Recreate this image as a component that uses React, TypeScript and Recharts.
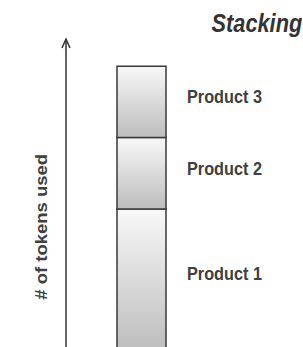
import React from 'react';
import { BarChart, Bar, XAxis, YAxis, LabelList } from 'recharts';

// Values (relative heights of the stacked segments)
const categories = ['Stacking'];
const productNames = ['Product 1', 'Product 2', 'Product 3'];
const product1 = [2];
const product2 = [1];
const product3 = [1];
const yMax = 4.38;

const seriesKeys = ['p1', 'p2', 'p3'];

const chartData = categories.map((name, i) => ({
  name,
  p1: product1[i],
  p2: product2[i],
  p3: product3[i]
}));

const FONT = '"Liberation Sans", Arial, sans-serif';
const TEXT_COLOR = '#404040';

// Segment label drawn to the right of each stacked piece
const makeLabel = (label: string) => (props: any) => {
  const { x, y, width, height } = props;
  // bottom segment runs past the visible area, so centre it on what shows
  const visibleH = Math.min(Number(height), 347 - Number(y));
  return (
    <text
      x={Number(x) + Number(width) + 21}
      y={Number(y) + visibleH / 2 - 5}
      dominantBaseline="central"
      fontFamily={FONT}
      fontWeight="bold"
      fontSize={18.5}
      textLength={75}
      lengthAdjust="spacingAndGlyphs"
      fill={TEXT_COLOR}
    >
      {label}
    </text>
  );
};

// Axis arrow head plus the rotated axis title
const AxisLabel = (props: any) => {
  const { viewBox } = props;
  const ax = viewBox.x + viewBox.width;
  const top = viewBox.y;
  const cx = ax - 25;
  const cy = top + viewBox.height * 0.6;
  return (
    <g>
      <path
        d={`M${ax - 4},${top + 9} L${ax},${top} L${ax + 4},${top + 9}`}
        fill="none"
        stroke="#333"
        strokeWidth={1.5}
      />
      <text
        transform={`translate(${cx},${cy}) rotate(-90) scale(1,0.9)`}
        textAnchor="middle"
        dominantBaseline="central"
        fontFamily={FONT}
        fontWeight="bold"
        fontSize={18.5}
        fill={TEXT_COLOR}
      >
        # of tokens used
      </text>
    </g>
  );
};

export default function App() {
  return (
    <div style={{ position: 'absolute', left: 0, top: 0, width: 303, height: 347, overflow: 'hidden', background: '#fff' }}>
      <div
        style={{
          position: 'absolute',
          right: 1,
          top: 9,
          fontFamily: FONT,
          fontWeight: 'bold',
          fontStyle: 'italic',
          fontSize: 25,
          color: '#333',
          transform: 'scaleX(0.87)',
          transformOrigin: 'right center',
          whiteSpace: 'nowrap'
        }}
      >
        Stacking
      </div>
      <BarChart
        width={303}
        height={352}
        data={chartData}
        margin={{ top: 39, right: 86, bottom: 0, left: 36 }}
      >
        <defs>
          <linearGradient id="segFill" x1="0" y1="0" x2="0" y2="1">
            <stop offset="0%" stopColor="#f8f8f8" />
            <stop offset="100%" stopColor="#bdbdbd" />
          </linearGradient>
        </defs>
        <XAxis dataKey="name" hide />
        <YAxis
          width={30}
          domain={[0, yMax]}
          tick={false}
          tickLine={false}
          axisLine={{ stroke: '#333', strokeWidth: 1.5 }}
          label={<AxisLabel />}
        />
        {seriesKeys.map((key, i) => (
          <Bar
            key={key}
            dataKey={key}
            stackId="a"
            barSize={49}
            fill="url(#segFill)"
            stroke="#3a3a3a"
            strokeWidth={1.5}
            isAnimationActive={false}
          >
            <LabelList dataKey={key} content={makeLabel(productNames[i])} />
          </Bar>
        ))}
      </BarChart>
    </div>
  );
}
